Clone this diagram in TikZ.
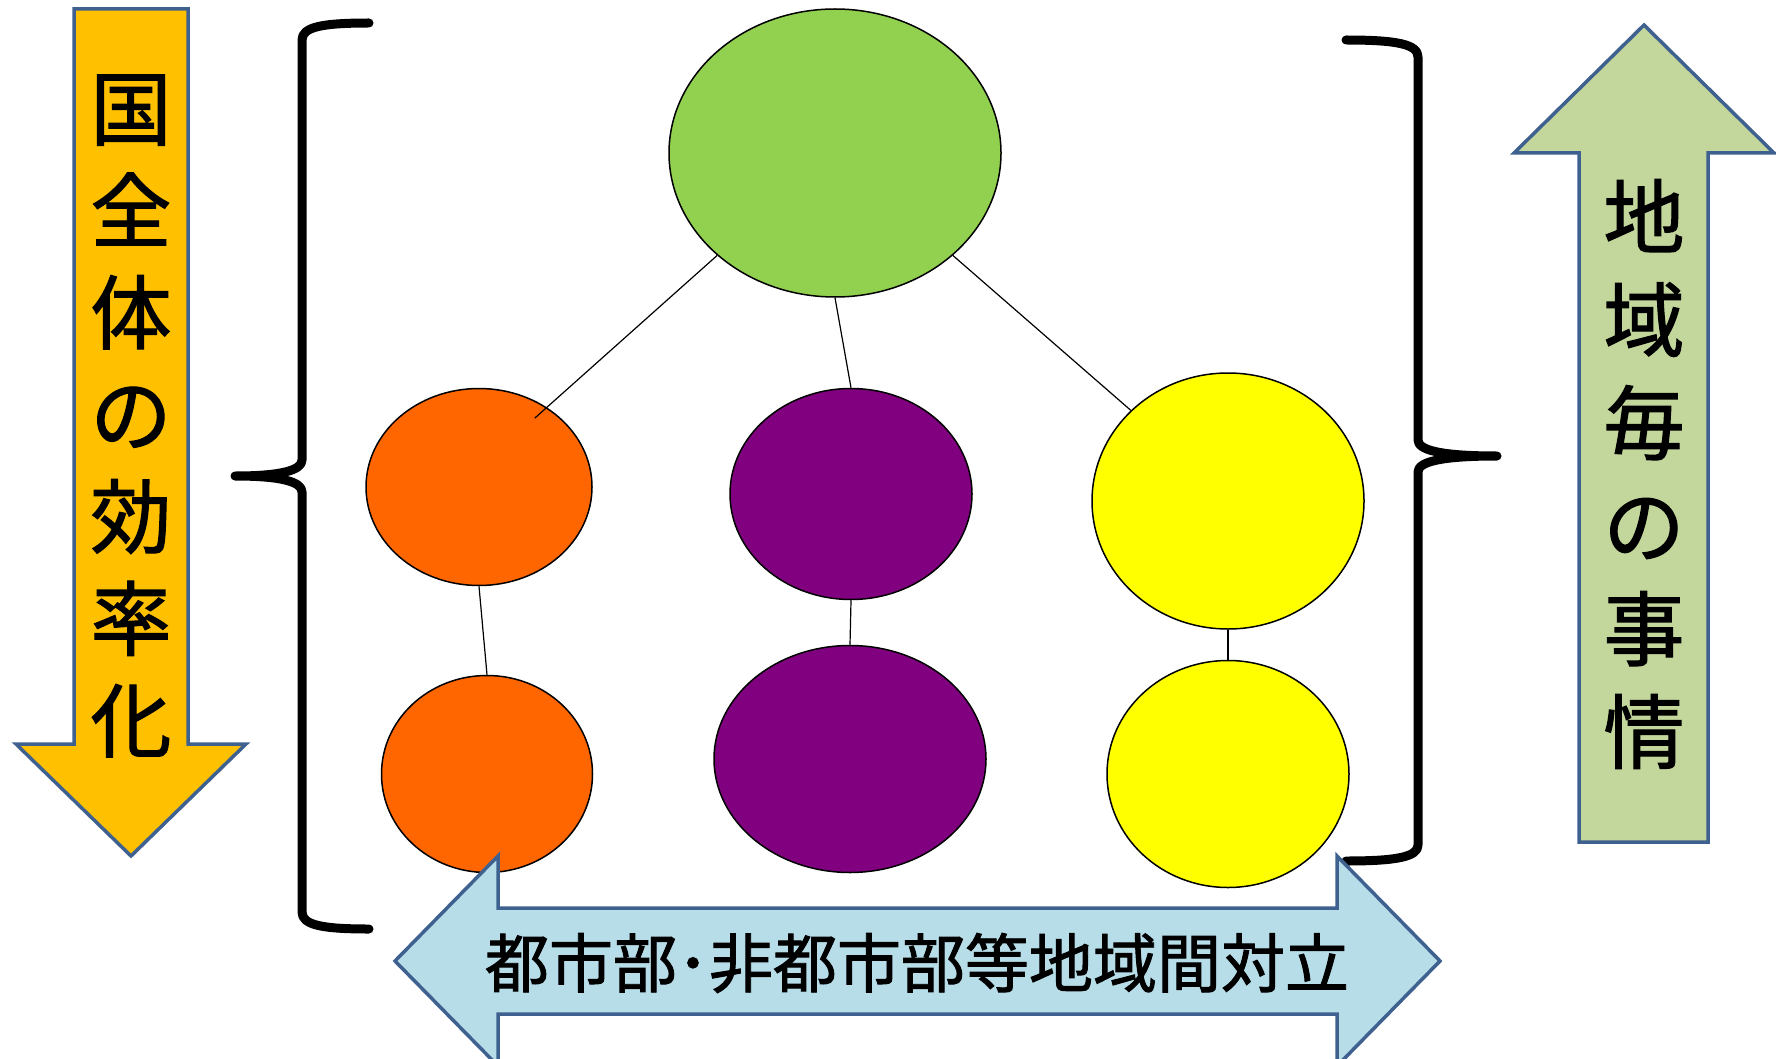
\documentclass[tikz,border=0pt]{standalone}
\usepackage{fontspec}
\usepackage{xcolor}
\usetikzlibrary{shapes.geometric}
\usetikzlibrary{calc}
\newfontfamily\jp[FakeBold=1.5]{Noto Sans CJK JP}
\definecolor{arrowline}{HTML}{3F6190}
\definecolor{effFill}{HTML}{FFC000}
\definecolor{localFill}{HTML}{C3D69B}
\definecolor{conflictFill}{HTML}{B7DDE8}
\definecolor{topGreen}{HTML}{92D050}
\definecolor{regOrange}{HTML}{FF6600}
\definecolor{regPurple}{HTML}{800080}
\definecolor{regYellow}{HTML}{FFFF00}
\tikzset{
  region/.style={draw=black, line width=1.5pt, ellipse, inner sep=0pt},
  link/.style={draw=black, line width=1.2pt},
  brace/.style={line width=9pt, line join=round, line cap=round},
  bigarrow/.style={draw=arrowline, line width=3.5pt, line join=miter},
}

\begin{document}
\begin{tikzpicture}[x=1pt, y=-1pt]
					\useasboundingbox (0,0) rectangle (1776,1059);
					%side arrows
					\draw[bigarrow, fill=effFill] (74,9) -- (188,9) -- (188,744) -- (246,744) -- (131,856) -- (16,744) -- (74,744) -- cycle;
					\draw[bigarrow, fill=localFill] (1579,842) -- (1708,842) -- (1708,153) -- (1774,153) -- (1644,25) -- (1514,153) -- (1579,153) -- cycle;
					\node[align=center, font=\jp\fontsize{81}{102}\selectfont] (effText) at (131,416) {国\\全\\体\\の\\効\\率\\化};
					\node[align=center, font=\jp\fontsize{81}{103}\selectfont] (localText) at (1644,474) {地\\域\\毎\\の\\事\\情};
					%braces
					\draw[brace] (369,23) .. controls (322,23) and (302,27) .. (302,40) -- (302,460) .. controls (302,470) and (282,476) .. (235,476)
						.. controls (282,476) and (302,482) .. (302,492) -- (302,912) .. controls (302,925) and (322,929) .. (369,929);
					\draw[brace] (1346,40) .. controls (1396,40) and (1418,44) .. (1418,57) -- (1418,440) .. controls (1418,450) and (1440,456) .. (1497,456)
						.. controls (1440,456) and (1418,462) .. (1418,472) -- (1418,845) .. controls (1418,857) and (1396,861) .. (1346,861);
					%regions
					\node[region, fill=topGreen, minimum width=332pt, minimum height=288pt] (green) at (835,153) {};
					\node[region, fill=regOrange, minimum width=226pt, minimum height=197pt] (o1) at (479,487) {};
					\node[region, fill=regOrange, minimum width=211pt, minimum height=197pt] (o2) at (487,774) {};
					\node[region, fill=regPurple, minimum width=242pt, minimum height=211pt] (p1) at (851,494) {};
					\node[region, fill=regPurple, minimum width=272pt, minimum height=227pt] (p2) at (850,759) {};
					\node[region, fill=regYellow, minimum width=272pt, minimum height=256pt] (y1) at (1228,501) {};
					\node[region, fill=regYellow, minimum width=242pt, minimum height=227pt] (y2) at (1228,774) {};
					%add lines
					\draw[link] (green.-139) -- ($(o1)!0.85!(o1.51)$);
					\draw[link] (green.south) -- (p1.north);
					\draw[link] (green.-41) -- (y1.137);
					\draw[link] (o1.south) -- (o2.north);
					\draw[link] (p1.south) -- (p2.north);
					\draw[link] (y1.south) -- (y2.north);
					%bottom arrow
					\draw[bigarrow, fill=conflictFill] (395,961) -- (498,856) -- (498,908) -- (1337,908) -- (1337,856) -- (1440,961) -- (1337,1066) -- (1337,1014) -- (498,1014) -- (498,1066) -- cycle;
					\node[font=\jp\fontsize{64}{64}\selectfont] (conflictText) at (917,963) {都市部･非都市部等地域間対立};
				\end{tikzpicture}
\end{document}
